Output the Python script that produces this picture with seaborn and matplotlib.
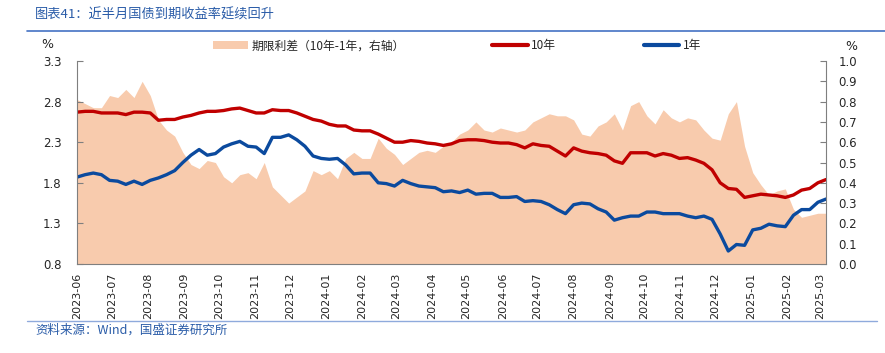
import matplotlib
matplotlib.use('Agg')
import numpy as np
import pandas as pd
import matplotlib.pyplot as plt
import matplotlib.dates as mdates
import seaborn as sns
from matplotlib.patches import Patch
from matplotlib.lines import Line2D
from matplotlib.ticker import FormatStrFormatter

# weekly readings, 2023-06-01 .. 2025-03-07
start = '2023-06-01'
y10 = [2.67, 2.68, 2.68, 2.66, 2.66, 2.66, 2.64, 2.67, 2.67, 2.66,
       2.57, 2.58, 2.58, 2.61, 2.63, 2.66, 2.68, 2.68, 2.69, 2.71,
       2.72, 2.69, 2.66, 2.66,
       2.70, 2.69, 2.69, 2.66, 2.62, 2.58, 2.56, 2.52, 2.50, 2.50,
       2.45, 2.44, 2.44, 2.40, 2.35, 2.30, 2.30, 2.32, 2.31, 2.29,
       2.28, 2.26,
       2.28, 2.32, 2.33, 2.33, 2.32, 2.30, 2.29, 2.29, 2.27, 2.23,
       2.28, 2.26, 2.25, 2.19, 2.13, 2.23, 2.19, 2.17, 2.16, 2.14,
       2.07, 2.04, 2.17,
       2.17, 2.17, 2.13, 2.16, 2.14, 2.10, 2.11, 2.08, 2.04, 1.96,
       1.80, 1.73, 1.72, 1.62, 1.64, 1.66, 1.65, 1.64, 1.62, 1.65,
       1.71, 1.73, 1.80, 1.84]
y1 = [1.87, 1.90, 1.92, 1.90, 1.83, 1.82, 1.78, 1.82, 1.78, 1.83,
      1.86, 1.90, 1.95, 2.05, 2.14, 2.21, 2.14, 2.16, 2.24, 2.28,
      2.31, 2.25, 2.24, 2.16,
      2.36, 2.36, 2.39, 2.33, 2.25, 2.13, 2.10, 2.09, 2.10, 2.02,
      1.91, 1.92, 1.92, 1.80, 1.79, 1.76, 1.83, 1.79, 1.76, 1.75,
      1.74, 1.69,
      1.70, 1.68, 1.71, 1.66, 1.67, 1.67, 1.62, 1.62, 1.63, 1.57,
      1.58, 1.57, 1.53, 1.47, 1.42, 1.53, 1.55, 1.54, 1.48, 1.44,
      1.34, 1.37, 1.39,
      1.39, 1.44, 1.44, 1.42, 1.42, 1.42, 1.39, 1.37, 1.39, 1.35,
      1.17, 0.96, 1.04, 1.03, 1.22, 1.24, 1.29, 1.27, 1.26, 1.40,
      1.47, 1.47, 1.56, 1.60]
spread = [0.81, 0.79, 0.77, 0.77, 0.83, 0.82, 0.86, 0.82, 0.90, 0.83,
          0.71, 0.66, 0.63, 0.55, 0.49, 0.47, 0.51, 0.50, 0.43, 0.40,
          0.44, 0.45, 0.42, 0.50,
          0.38, 0.34, 0.30, 0.33, 0.36, 0.46, 0.44, 0.46, 0.42, 0.52,
          0.55, 0.52, 0.52, 0.62, 0.57, 0.54, 0.49, 0.52, 0.55, 0.56,
          0.55, 0.58,
          0.60, 0.64, 0.66, 0.70, 0.66, 0.65, 0.67, 0.66, 0.65, 0.66,
          0.70, 0.72, 0.74, 0.73, 0.73, 0.71, 0.64, 0.63, 0.68, 0.70,
          0.74, 0.66, 0.78,
          0.80, 0.73, 0.69, 0.76, 0.72, 0.70, 0.72, 0.71, 0.66, 0.62,
          0.61, 0.74, 0.80, 0.58, 0.45, 0.39, 0.34, 0.36, 0.37, 0.27,
          0.23, 0.24, 0.25, 0.25]

labels = ['期限利差（10年-1年，右轴）', '10年', '1年']
title = '图表41：近半月国债到期收益率延续回升'
source = '资料来源：Wind，国盛证券研究所'

AREA = '#F8CBAD'
RED = '#C00000'
BLUE = '#0B4A9E'
NAVY = '#2A5CA8'
AXC = '#7F7F7F'

sns.set_style('white')
plt.rcParams['font.family'] = ['DejaVu Sans', 'Noto Sans CJK SC']
cjk = ['Noto Sans CJK SC', 'DejaVu Sans']

dates = pd.date_range(start, periods=len(y10), freq='7D')
df = pd.DataFrame({'date': dates, 'y10': y10, 'y1': y1, 'spread': spread})

fig = plt.figure(figsize=(8.85, 3.53), dpi=100)
ax = fig.add_axes([77 / 885, 1 - 264 / 353, 749 / 885, 203 / 353])
ax2 = ax.twinx()

ax2.fill_between(df['date'], 0, df['spread'], color=AREA, lw=0)
ax.set_zorder(ax2.get_zorder() + 1)
ax.patch.set_visible(False)

sns.lineplot(data=df, x='date', y='y10', ax=ax, color=RED, lw=2.4)
sns.lineplot(data=df, x='date', y='y1', ax=ax, color=BLUE, lw=2.4)

ax.set_xlim(dates[0], dates[-1])
ax.set_ylim(0.8, 3.3)
ax.set_yticks(np.arange(0.8, 3.31, 0.5))
ax.yaxis.set_major_formatter(FormatStrFormatter('%.1f'))
ax2.set_ylim(0, 1.0)
ax2.set_yticks(np.arange(0, 1.01, 0.1))
ax2.yaxis.set_major_formatter(FormatStrFormatter('%.1f'))
ax.set_xlabel('')
ax.set_ylabel('')

ax.xaxis.set_major_locator(mdates.MonthLocator())
ax.xaxis.set_major_formatter(mdates.DateFormatter('%Y-%m'))
ax.tick_params(axis='x', length=0, pad=6, labelsize=8, rotation=90)
ax.tick_params(axis='y', direction='in', length=4, pad=11, labelsize=8.5, color=AXC)
ax2.tick_params(axis='y', direction='in', length=4, pad=9, labelsize=8.5, color=AXC)

for s in ['top', 'right']:
    ax.spines[s].set_visible(False)
for s in ['top', 'left', 'bottom']:
    ax2.spines[s].set_visible(False)
ax.spines['left'].set_color(AXC)
ax.spines['bottom'].set_color(AXC)
ax2.spines['right'].set_color(AXC)

handles = [Patch(facecolor=AREA, edgecolor='none'),
           Line2D([], [], color=RED, lw=3),
           Line2D([], [], color=BLUE, lw=3)]
ax.legend(handles, labels, loc='center', bbox_to_anchor=(0.507, 1.074),
          ncol=3, frameon=False, handlelength=3, columnspacing=7.4,
          handletextpad=0.3, prop={'family': cjk, 'size': 8.5})

fig.text(47 / 885, 1 - 44 / 353, '%', fontsize=9, ha='center', va='center')
fig.text(851 / 885, 1 - 46 / 353, '%', fontsize=9, ha='center', va='center')

fig.text(35 / 885, 1 - 15 / 353, title, family=cjk, fontsize=9.5,
         color=NAVY, va='center')
fig.text(35 / 885, 1 - 330 / 353, source, family=cjk, fontsize=9,
         color=NAVY, va='center')
fig.add_artist(Line2D([27 / 885, 1.0], [1 - 31 / 353] * 2, color='#4472C4', lw=1.2))
fig.add_artist(Line2D([27 / 885, 877 / 885], [1 - 321 / 353] * 2, color='#8FAADC', lw=1.0))

fig.savefig('out.png', dpi=100)
